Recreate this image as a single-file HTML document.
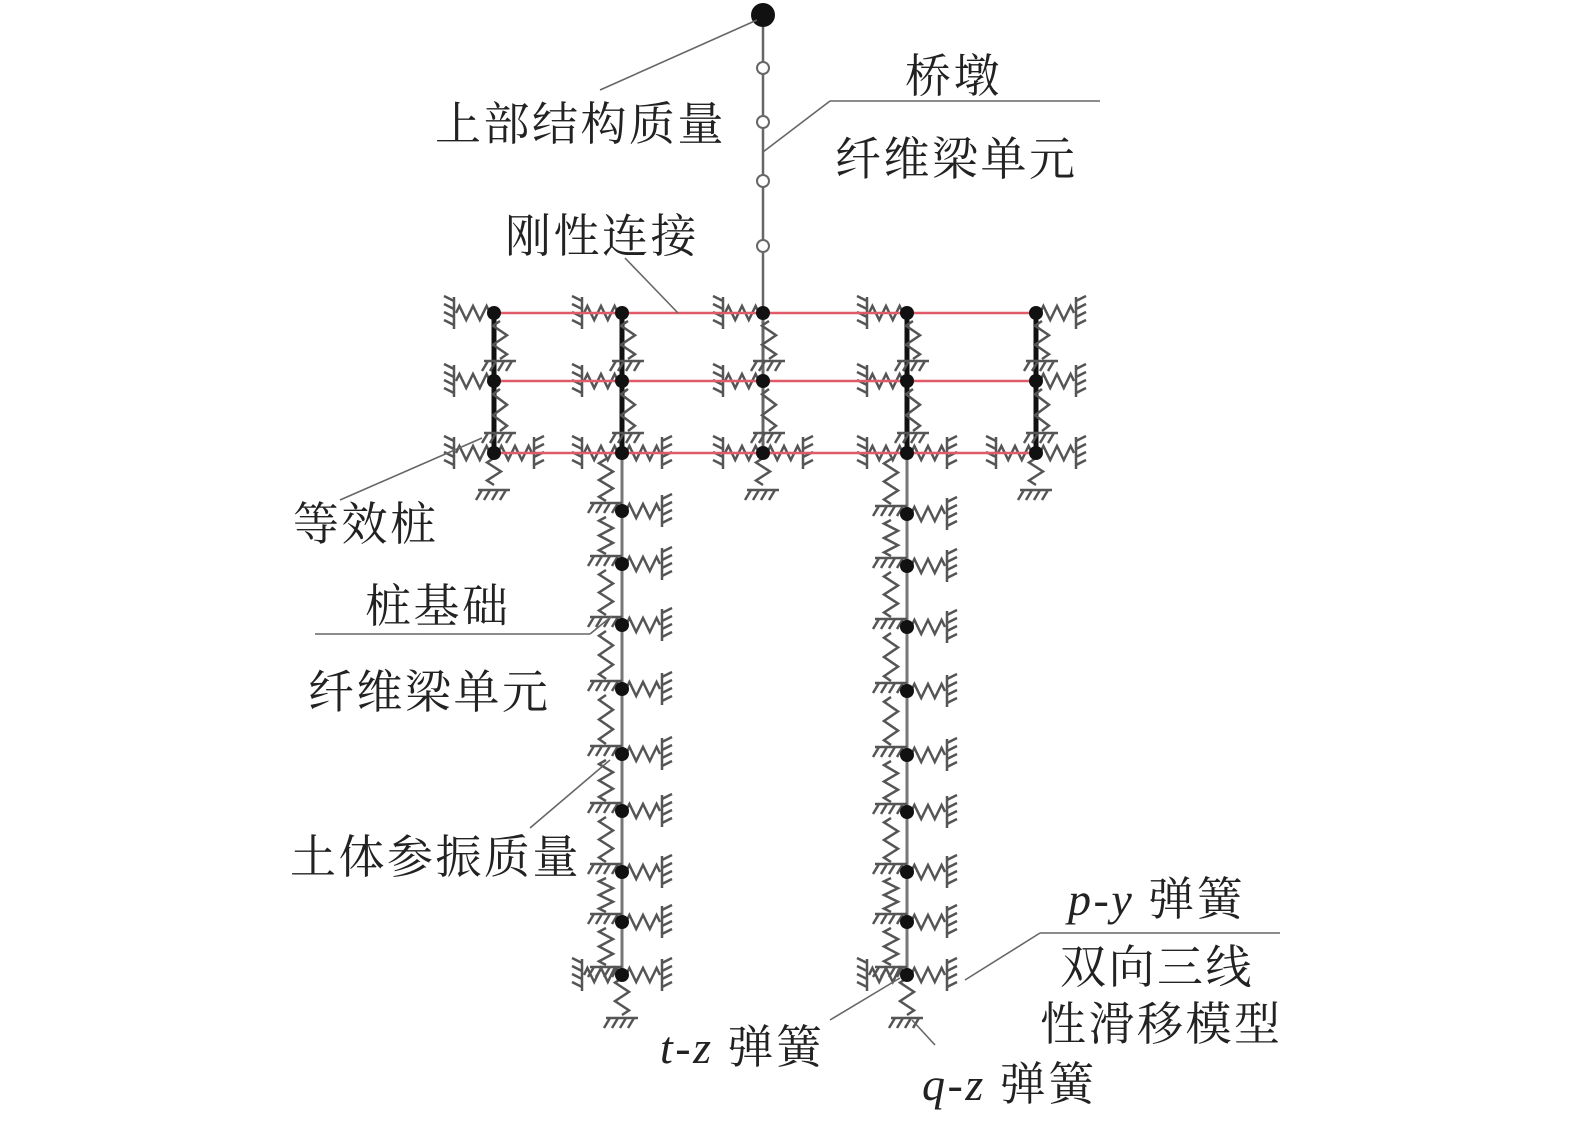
<!DOCTYPE html>
<html><head><meta charset="utf-8"><style>
html,body{margin:0;padding:0;background:#fff;width:1575px;height:1121px;overflow:hidden}
svg{position:absolute;left:0;top:0}
text{font-family:"Liberation Serif","Noto Serif CJK SC",serif;font-size:46px;fill:#222;letter-spacing:2.5px}
</style></head><body>
<svg id="s" width="1575" height="1121" viewBox="0 0 1575 1121">
<g id="g" stroke="#555" fill="none" stroke-width="2.5"></g>
<g stroke="#666" stroke-width="1.6" fill="none">
<line x1="600" y1="90" x2="757" y2="20"/>
<line x1="830" y1="101" x2="1100" y2="101"/><line x1="830" y1="101" x2="763" y2="152"/>
<line x1="625" y1="258" x2="678" y2="313"/>
<line x1="340" y1="500" x2="482" y2="438"/>
<line x1="315" y1="634" x2="590" y2="634"/><line x1="590" y1="634" x2="612" y2="616"/>
<line x1="530" y1="828" x2="610" y2="760"/>
<line x1="1040" y1="933" x2="1280" y2="933"/><line x1="1040" y1="933" x2="965" y2="980"/>
<line x1="830" y1="1020" x2="900" y2="978"/>
<line x1="935" y1="1045" x2="912" y2="1020"/>
</g>
<text x="435" y="140">上部结构质量</text>
<text x="905" y="92">桥墩</text>
<text x="835" y="175">纤维梁单元</text>
<text x="505" y="252">刚性连接</text>
<text x="293" y="540">等效桩</text>
<text x="365" y="622">桩基础</text>
<text x="308" y="708">纤维梁单元</text>
<text x="290" y="873">土体参振质量</text>
<text x="1068" y="915"><tspan font-style="italic">p-y</tspan> 弹簧</text>
<text x="1060" y="983">双向三线</text>
<text x="1040" y="1040">性滑移模型</text>
<text x="660" y="1063"><tspan font-style="italic">t-z</tspan> 弹簧</text>
<text x="922" y="1100"><tspan font-style="italic">q-z</tspan> 弹簧</text>
</svg>
<script>
var g=document.getElementById('g'),NS='http://www.w3.org/2000/svg';
function el(t,a){var e=document.createElementNS(NS,t);for(var k in a)e.setAttribute(k,a[k]);g.appendChild(e);return e;}
function line(x1,y1,x2,y2,c,w){el('line',{x1:x1,y1:y1,x2:x2,y2:y2,stroke:c||'#555','stroke-width':w||2.5});}
function zigH(x1,x2,y,n){var d='M'+x1+' '+y,dx=(x2-x1)/n;for(var i=1;i<=n;i++){d+=' L'+(x1+dx*(i-0.5))+' '+(y+(i%2?-7:7));}d+=' L'+x2+' '+y;el('path',{d:d});}
function zigV(x,y1,y2,n){var d='M'+x+' '+y1,dy=(y2-y1)/n;for(var i=1;i<=n;i++){d+=' L'+(x+(i%2?-7:7))+' '+(y1+dy*(i-0.5));}d+=' L'+x+' '+y2;el('path',{d:d});}
function hatchV(x,y,dir){line(x,y-16,x,y+16);for(var k=-12;k<=12;k+=8)line(x,y+k,x+dir*10,y+k-5);}
function hatchH(x,y){line(x-16,y,x+16,y);for(var k=-12;k<=12;k+=8)line(x+k,y,x+k-6,y+10);}
function leftSpring(x,y){zigH(x-38,x-4,y,5);hatchV(x-40,y,-1);}
function rightSpring(x,y){zigH(x+4,x+38,y,5);hatchV(x+40,y,1);}
function dot(x,y,r){el('circle',{cx:x,cy:y,r:r||7,fill:'#111',stroke:'none'});}
line(763,15,763,313,'#666',2.5);
[68,122,181,246].forEach(function(y){el('circle',{cx:763,cy:y,r:6,fill:'#fff',stroke:'#666','stroke-width':2});});
el('circle',{cx:763,cy:15,r:12,fill:'#111',stroke:'none'});
var cols=[494,622,763,907,1036],rows=[313,381,453];
var pn1=[511,564,625,689,754,811,872,922,975],pn2=[514,566,627,691,755,812,872,922,975];
[[622,pn1],[907,pn2]].forEach(function(p){var x=p[0];line(x,453,x,975,'#777',3);
 var prev=453;p[1].forEach(function(y){zigV(x-16,prev+6,y-10,5);hatchH(x-16,y-8);rightSpring(x,y);prev=y;});
 zigV(x,978,1015,4);hatchH(x,1018);leftSpring(x,975);});
cols.forEach(function(x,i){
 line(x,313,x,453,i==2?'#666':'#111',i==2?3:5);
 [[313,381],[381,453]].forEach(function(s){zigV(x+6,s[0]+8,s[1]-22,4);hatchH(x+6,s[1]-20);});
 rows.forEach(function(y,j){ if(i<4||j==2) leftSpring(x,y);});
 if(i==4) rows.forEach(function(y){rightSpring(x,y);}); else rightSpring(x,453);
 if(i!=1&&i!=3){zigV(x,458,485,3);hatchH(x,490);}
});
rows.forEach(function(y){line(494,y,1036,y,'#e05a6a',2.5);});
cols.forEach(function(x){rows.forEach(function(y){dot(x,y,7);});});
[pn1,pn2].forEach(function(a,k){var x=k?907:622;a.forEach(function(y){dot(x,y,7);});});
</script>
</body></html>
